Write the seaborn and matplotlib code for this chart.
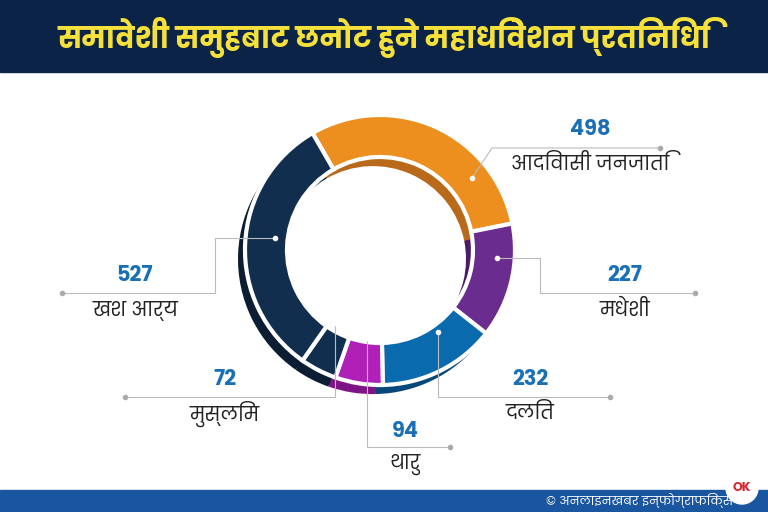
import matplotlib
matplotlib.use("Agg")
import matplotlib.pyplot as plt
from matplotlib import font_manager
from matplotlib.ft2font import FT2Font
from matplotlib.patches import Rectangle, Circle
import seaborn as sns

# find a font that can draw Devanagari
font = "DejaVu Sans"
for f in font_manager.findSystemFonts():
    try:
        if 0x0915 in FT2Font(f).get_charmap():
            font_manager.fontManager.addfont(f)
            font = font_manager.FontProperties(fname=f).get_name()
            break
    except Exception:
        pass

sns.set_theme(style="white", rc={"font.family": font})

groups = ["आदिवासी जनजाति", "मधेशी", "दलित", "थारु", "मुस्लिम", "खश आर्य"]
values = [498, 227, 232, 94, 72, 527]
value_labels = ["४९८", "२२७", "२३२", "९४", "७२", "५२७"]
colors = ["#EC8F1E", "#6A2C8E", "#0A6AAE", "#B020B8", "#112E4E", "#112E4E"]
side_colors = ["#B8691A", "#4A1C66", "#07487A", "#7E1485", "#0A1D33", "#0A1D33"]

# leader lines: (path points in px, number pos, label pos)
leaders = [
    ([(472, 178), (492, 148), (660, 148)], (590, 130), (590, 165)),
    ([(497, 258), (540, 258), (540, 293), (695, 293)], (625, 276), (625, 311)),
    ([(438, 332), (438, 397), (610, 397)], (530, 380), (530, 414)),
    ([(367, 338), (367, 447), (450, 447)], (405, 432), (405, 464)),
    ([(335, 323), (335, 397), (125, 397)], (225, 380), (225, 414)),
    ([(275, 238), (215, 238), (215, 293), (62, 293)], (135, 276), (135, 311)),
]

fig = plt.figure(figsize=(7.68, 5.12), dpi=100)
ax = fig.add_axes([0, 0, 1, 1])

ax.add_patch(Rectangle((0, 512 - 72), 768, 72, color="#0B2346", zorder=1))
ax.add_patch(Rectangle((0, 0), 768, 22, color="#1A56A0", zorder=1))
ax.text(384, 512 - 38, "समावेशी समुहबाट छनोट हुने महाधिवेशन प्रतिनिधि", color="#F6E03A",
        fontsize=21, fontweight="bold", ha="center", va="center", zorder=2)
ax.text(640, 11, "© अनलाइनखबर इन्फोग्राफिक्स", color="white", fontsize=9,
        ha="center", va="center", zorder=2)
ax.add_patch(Circle((742, 24), 16, color="white", zorder=2))
ax.text(742, 24, "OK", color="#D7262E", fontsize=9, fontweight="bold",
        ha="center", va="center", zorder=3)

explode = [0, 0, 0, 0, 0.04, 0]
# 3D side (extrusion) drawn in several offset layers
for k in range(1, 8):
    ax.pie(values, colors=side_colors, startangle=120, counterclock=False, radius=135,
           center=(380 - k, 262 - 1.3 * k), explode=explode,
           wedgeprops=dict(width=42, edgecolor="none"), frame=True)
ax.pie(values, colors=colors, startangle=120, counterclock=False, radius=135,
       center=(380, 262), explode=explode,
       wedgeprops=dict(width=42, edgecolor="white", linewidth=3), frame=True)
ax.set_xlim(0, 768)
ax.set_ylim(0, 512)
ax.set_aspect("equal")
ax.axis("off")

for (pts, npos, lpos), num, grp in zip(leaders, value_labels, groups):
    xs = [p[0] for p in pts]
    ys = [512 - p[1] for p in pts]
    ax.plot(xs, ys, color="#BBBBBB", lw=0.8, zorder=5)
    ax.plot(xs[0], ys[0], "o", color="white", ms=3, zorder=6)
    ax.plot(xs[-1], ys[-1], "o", color="#AAAAAA", ms=3, zorder=6)
    ax.text(npos[0], 512 - npos[1], num, color="#1A6FB5", fontsize=15,
            fontweight="bold", ha="center", va="center")
    ax.text(lpos[0], 512 - lpos[1], grp, color="#222222", fontsize=14,
            ha="center", va="center")

fig.savefig("out.png", dpi=100)
